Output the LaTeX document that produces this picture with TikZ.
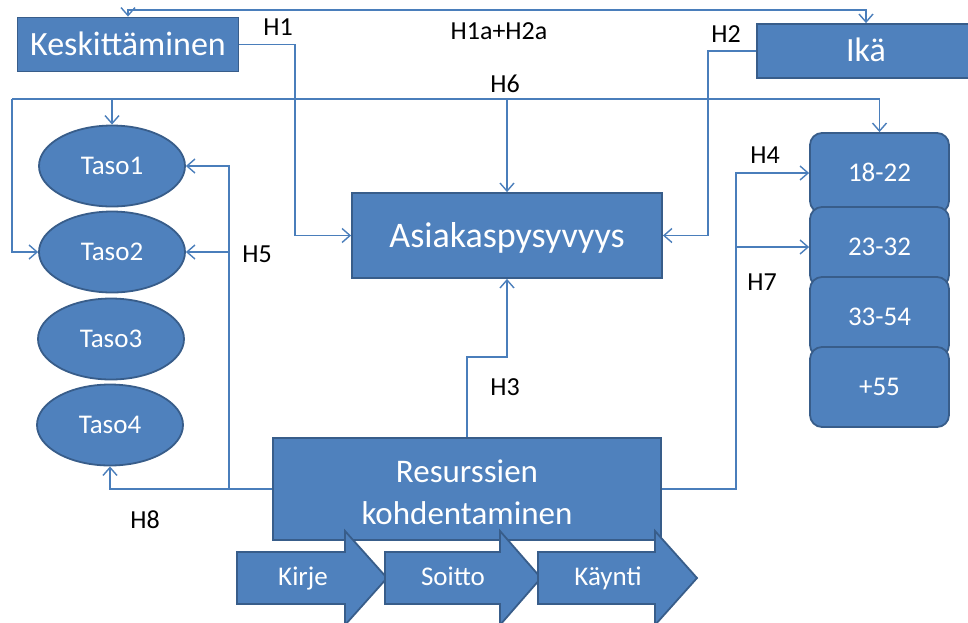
\documentclass[tikz,border=0pt]{standalone}
\usepackage{fontspec}
\setmainfont{Carlito}
\usetikzlibrary{arrows.meta,shapes.geometric}
\definecolor{fillblue}{HTML}{4F81BD}
\definecolor{edgeblue}{HTML}{385D8A}
\definecolor{lineblue}{HTML}{4A7EBB}
\begin{document}
\begin{tikzpicture}[x=1pt,y=-1pt,
  ft/.style={font=\fontsize{#1}{#1}\selectfont,
    text height={\dimexpr #1pt*80/100\relax},
    text depth={\dimexpr #1pt*156/1000\relax}},
  box/.style={draw=edgeblue,line width=1.8pt,fill=fillblue,text=white,inner sep=0pt},
  ell/.style={box,ellipse,minimum width=146pt,minimum height=81pt,ft=27},
  age/.style={box,rounded corners=12pt,minimum width=139pt,minimum height=80pt,ft=27},
  wlab/.style={text=white,inner sep=0pt,ft=27},
  lab/.style={text=black,inner sep=0pt,ft=26},
  conn/.style={draw=lineblue,line width=1.4pt},
  >={Straight Barb[length=8pt,width=14pt]}]
\useasboundingbox (0,0) rectangle (968,622);

% main boxes
\node[box,minimum width=221pt,minimum height=54pt,ft=34] (kesk) at (128,44.5) {Keskittäminen};
\node[box,minimum width=218pt,minimum height=54pt,ft=34] (ika) at (866,51) {Ikä};
\node[box,minimum width=310pt,minimum height=85pt,ft=36] (asia) at (507,235.5) {Asiakaspysyvyys};
\node[box,minimum width=388pt,minimum height=102pt] (res) at (467,489) {};
\node[text=white,inner sep=0pt,align=center,font=\fontsize{33}{42}\selectfont] (resT) at (467,492) {Resurssien\\kohdentaminen};

% levels
\node[ell] (t1) at (112,166) {Taso1};
\node[ell] (t2) at (112,252) {Taso2};
\node[ell] (t3) at (111,339) {Taso3};
\node[ell] (t4) at (110,425) {Taso4};

% age groups
\node[age] (a1) at (879.5,173) {18-22};
\node[age] (a2) at (879.5,247) {23-32};
\node[age] (a3) at (879.5,317) {33-54};
\node[age] (a4) at (879.5,387) {+55};

% process arrows
\draw[box] (237,552) -- (345,552) -- (345,531) -- (387,578) -- (345,625) -- (345,604) -- (237,604) -- cycle;
\draw[box] (385,552) -- (500,552) -- (500,531) -- (541,578) -- (500,625) -- (500,604) -- (385,604) -- cycle;
\draw[box] (538,552) -- (655,552) -- (655,531) -- (697,578) -- (655,625) -- (655,604) -- (538,604) -- cycle;
\node[wlab] (kirje) at (303,577) {Kirje};
\node[wlab] (soitto) at (453,577) {Soitto};
\node[wlab] (kaynti) at (608,577) {Käynti};

% helper coordinates
\coordinate (topY) at (500,10);
\coordinate (h6l) at (12,99);
\coordinate (h6r) at (879.5,99);
\coordinate (h1x) at (295,0);
\coordinate (h2x) at (708,0);
\coordinate (h3y) at (0,357);
\coordinate (h5x) at (229,0);
\coordinate (h4x) at (736,0);

% connectors
\draw[conn,<->] (kesk.north) -- (kesk.north |- topY) -| (ika.north);
\draw[conn,->] (kesk.east) -| (h1x |- asia.west) -- (asia.west);
\draw[conn,->] (ika.west) -| (h2x |- asia.east) -- (asia.east);
\draw[conn] (h6l) -- (h6r);
\draw[conn,->] (h6l) |- (t2.west);
\draw[conn,->] (h6r) -- (a1.north);
\draw[conn,->] (t1.north |- h6l) -- (t1.north);
\draw[conn,->] (asia.north |- h6l) -- (asia.north);
\draw[conn,->] (res.north) -- (res.north |- h3y) -| (asia.south);
\draw[conn,->] (res.west) -| (t4.south);
\draw[conn,->] (h5x |- res.west) |- (t1.east);
\draw[conn,->] (h5x |- t2.east) -- (t2.east);
\draw[conn,->] (res.east) -| (h4x |- a1.west) -- (a1.west);
\draw[conn,->] (h4x |- a2.west) -- (a2.west);

% labels
\node[lab] (lH1) at (278,27) {H1};
\node[lab] (lH12) at (499,31) {H1a+H2a};
\node[lab] (lH2) at (726,34) {H2};
\node[lab] (lH6) at (505,84) {H6};
\node[lab] (lH5) at (257,254) {H5};
\node[lab] (lH4) at (765,155) {H4};
\node[lab] (lH7) at (762,282) {H7};
\node[lab] (lH3) at (505,387) {H3};
\node[lab] (lH8) at (145,520) {H8};
\end{tikzpicture}
\end{document}
